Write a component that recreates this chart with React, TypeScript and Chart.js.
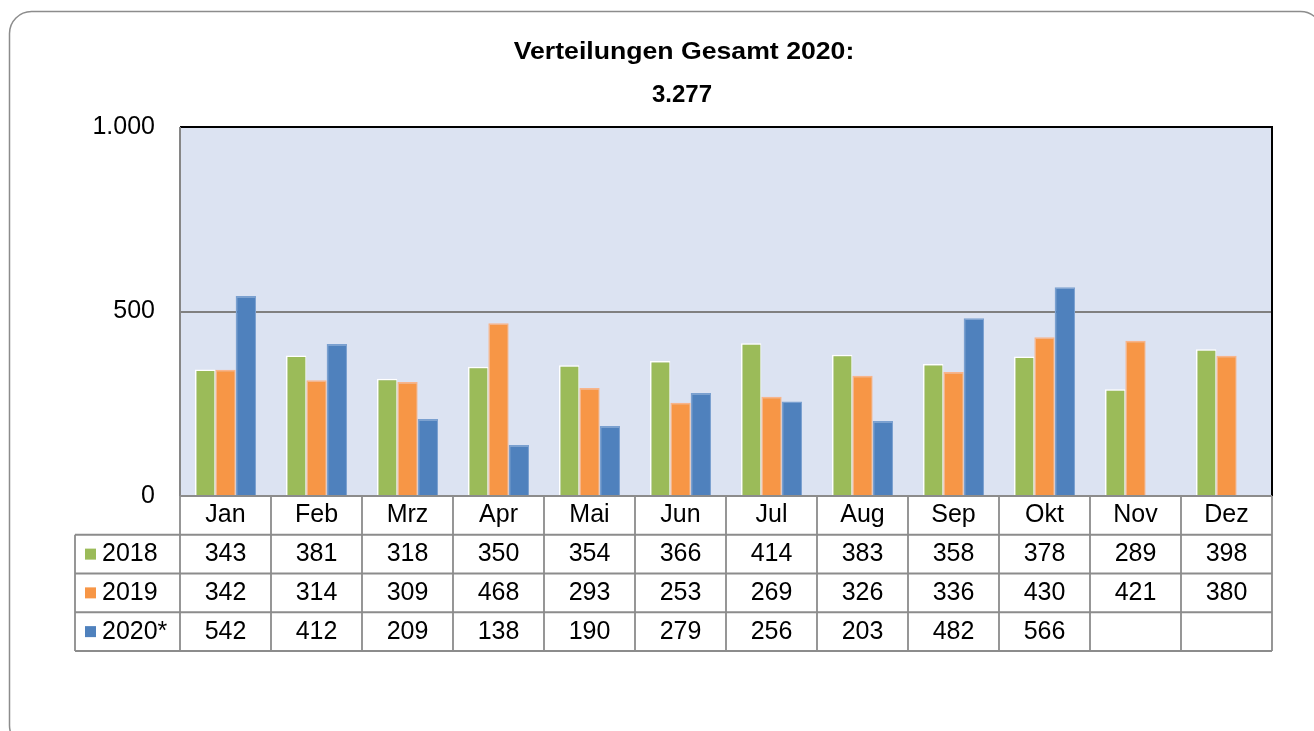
import React, { useEffect, useRef } from 'react';
import { Chart, registerables } from 'chart.js';

Chart.register(...registerables);

const months = ['Jan', 'Feb', 'Mrz', 'Apr', 'Mai', 'Jun', 'Jul', 'Aug', 'Sep', 'Okt', 'Nov', 'Dez'];
const series2018 = [343, 381, 318, 350, 354, 366, 414, 383, 358, 378, 289, 398];
const series2019 = [342, 314, 309, 468, 293, 253, 269, 326, 336, 430, 421, 380];
const series2020 = [542, 412, 209, 138, 190, 279, 256, 203, 482, 566, null, null];
const seriesLabels = ['2018', '2019', '2020*'];
const seriesColors = ['#9BBB59', '#F79646', '#4F81BD'];
const seriesBorders = ['#ffffff', '#f9b48a', '#7aa0d0'];
const titleLine1 = 'Verteilungen Gesamt 2020:';
const titleLine2 = '3.277';
const yMin = 0;
const yMax = 1000;
const yStep = 500;

const FONT = '"Liberation Sans", Arial, sans-serif';

function fmt(v: number): string {
  return String(v).replace(/\B(?=(\d{3})+(?!\d))/g, '.');
}

const tablePlugin = {
  id: 'tablePlugin',
  beforeDraw(chart: any) {
    const { ctx, chartArea } = chart;
    ctx.save();
    ctx.fillStyle = '#ffffff';
    ctx.fillRect(0, 0, chart.width, chart.height);
    // outer rounded frame
    ctx.strokeStyle = '#8c8c8c';
    ctx.lineWidth = 1.5;
    ctx.beginPath();
    (ctx as any).roundRect(9.5, 11.5, 1313, 736, 22);
    ctx.stroke();
    // plot background
    ctx.fillStyle = '#DCE3F2';
    ctx.fillRect(chartArea.left, chartArea.top, chartArea.right - chartArea.left, chartArea.bottom - chartArea.top);
    ctx.restore();
  },
  afterDraw(chart: any) {
    const { ctx, chartArea } = chart;
    const xScale = chart.scales.x;
    const colW = (chartArea.right - chartArea.left) / months.length;
    const rowH = 38.75;
    const top = chartArea.bottom;
    const labelLeft = 75;
    ctx.save();

    // plot borders
    ctx.lineWidth = 2;
    ctx.strokeStyle = '#000000';
    ctx.beginPath();
    ctx.moveTo(chartArea.left, chartArea.top);
    ctx.lineTo(chartArea.right, chartArea.top);
    ctx.lineTo(chartArea.right, chartArea.bottom);
    ctx.stroke();
    ctx.strokeStyle = '#868686';
    ctx.beginPath();
    ctx.moveTo(chartArea.left, chartArea.top);
    ctx.lineTo(chartArea.left, chartArea.bottom);
    ctx.stroke();

    // table grid
    ctx.strokeStyle = '#8c8c8c';
    ctx.lineWidth = 1.8;
    ctx.beginPath();
    ctx.moveTo(chartArea.left, top);
    ctx.lineTo(chartArea.right, top);
    for (let r = 1; r <= 4; r++) {
      ctx.moveTo(labelLeft, top + r * rowH);
      ctx.lineTo(chartArea.right, top + r * rowH);
    }
    ctx.moveTo(labelLeft, top + rowH);
    ctx.lineTo(labelLeft, top + 4 * rowH);
    for (let i = 0; i <= months.length; i++) {
      const x = chartArea.left + i * colW;
      ctx.moveTo(x, top);
      ctx.lineTo(x, top + 4 * rowH);
    }
    ctx.stroke();

    // texts
    ctx.fillStyle = '#000000';
    ctx.font = `25px ${FONT}`;
    ctx.textBaseline = 'middle';
    ctx.textAlign = 'center';
    months.forEach((m, i) => {
      const cx = xScale.getPixelForValue(i);
      ctx.fillText(m, cx, top + rowH / 2);
    });
    const allSeries = [series2018, series2019, series2020];
    allSeries.forEach((s, r) => {
      const cy = top + (r + 1.5) * rowH;
      s.forEach((v, i) => {
        if (v === null || v === undefined) return;
        ctx.fillText(fmt(v as number), xScale.getPixelForValue(i), cy);
      });
    });
    ctx.textAlign = 'left';
    seriesLabels.forEach((lab, r) => {
      const cy = top + (r + 1.5) * rowH;
      ctx.fillStyle = seriesColors[r];
      ctx.fillRect(85, cy - 5.5, 11, 11);
      ctx.fillStyle = '#000000';
      ctx.fillText(lab, 102, cy);
    });

    // title
    ctx.textAlign = 'center';
    ctx.font = `bold 24px ${FONT}`;
    ctx.save();
    ctx.translate(684, 52);
    ctx.scale(1.11, 1);
    ctx.fillText(titleLine1, 0, 0);
    ctx.restore();
    ctx.fillText(titleLine2, 682, 95);
    ctx.restore();
  },
};

export default function App() {
  const canvasRef = useRef<HTMLCanvasElement | null>(null);

  useEffect(() => {
    if (!canvasRef.current) return;
    const chart = new Chart(canvasRef.current, {
      type: 'bar',
      data: {
        labels: months,
        datasets: [series2018, series2019, series2020].map((d, i) => ({
          label: seriesLabels[i],
          data: d,
          backgroundColor: seriesColors[i],
          borderColor: seriesBorders[i],
          borderWidth: { top: 1.5, left: 1.5, right: 1, bottom: 0 },
          borderSkipped: 'bottom',
          categoryPercentage: 0.67,
          barPercentage: 1.0,
        })),
      },
      options: {
        animation: false,
        responsive: true,
        maintainAspectRatio: false,
        layout: { padding: { left: 0, top: 127, right: 42, bottom: 235 } },
        plugins: {
          legend: { display: false },
          title: { display: false },
          tooltip: { enabled: false },
        },
        scales: {
          x: { display: false },
          y: {
            min: yMin,
            max: yMax,
            afterFit: (scale: any) => {
              scale.width = 180;
            },
            border: { display: false },
            grid: {
              drawTicks: false,
              color: (c: any) => (c.tick && c.tick.value === 500 ? '#808080' : 'rgba(0,0,0,0)'),
              lineWidth: 2,
            },
            ticks: {
              stepSize: yStep,
              padding: 25,
              color: '#000000',
              font: { family: FONT, size: 25 },
              callback: (v: any) => fmt(Number(v)),
            },
          },
        },
      },
      plugins: [tablePlugin],
    } as any);
    return () => chart.destroy();
  }, []);

  return (
    <div style={{ position: 'fixed', left: 0, top: 0, width: 1314, height: 731 }}>
      <canvas ref={canvasRef} />
    </div>
  );
}
